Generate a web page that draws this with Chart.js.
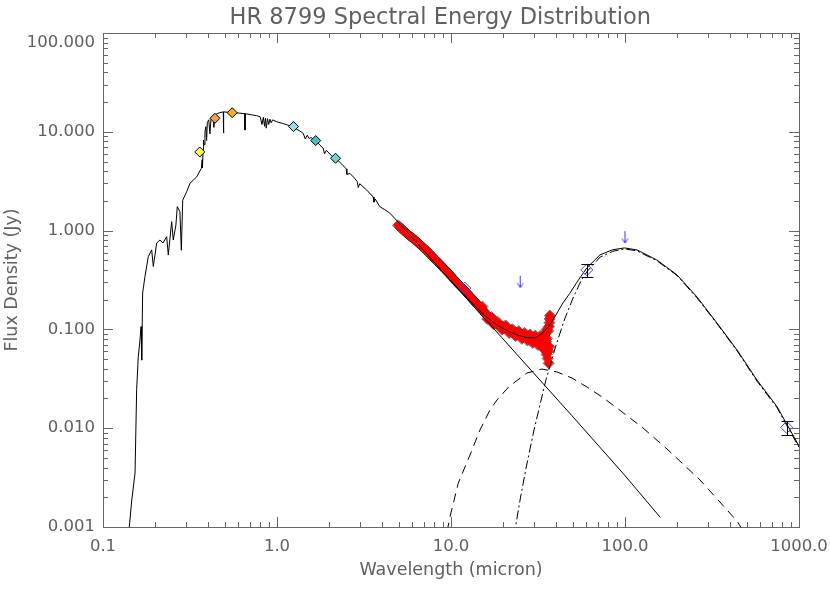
<!DOCTYPE html>
<html><head><meta charset="utf-8">
<script src="https://cdn.jsdelivr.net/npm/chart.js@4.4.0/dist/chart.umd.min.js"></script>
<style>html,body{margin:0;padding:0;background:#fff;overflow:hidden}canvas{display:block}</style>
</head><body>
<canvas id="c" width="830" height="593"></canvas>
<script>
// ---- tick labels ----
const xTicks = [0.1, 1, 10, 100, 1000];
const xTickLabels = ['0.1', '1.0', '10.0', '100.0', '1000.0'];
const yTicks = [0.001, 0.01, 0.1, 1, 10, 100];
const yTickLabels = ['0.001', '0.010', '0.100', '1.000', '10.000', ['', '100.000']];

// ---- stellar photosphere model (micron, Jy) ----
const photWave = [0.141,0.1463,0.1528,0.1561,0.1595,0.1631,0.1655,0.1669,0.169,0.1742,0.1821,0.1905,0.1946,0.2035,0.2126,0.2212,0.2322,0.2373,0.2481,0.2535,0.2624,0.2672,0.2767,0.282,0.2872,0.3027,0.316,0.3455,0.3674,0.3712,0.3731,0.3759,0.3779,0.3817,0.3855,0.3902,0.394,0.3978,0.4054,0.4116,0.4178,0.4283,0.434,0.4397,0.4644,0.4913,0.4926,0.4945,0.5318,0.5893,0.6528,0.6547,0.6566,0.7142,0.7622,0.8006,0.8197,0.8341,0.8485,0.8581,0.8677,0.882,0.8965,0.9109,0.9252,0.9446,0.9956,1.079,1.156,1.239,1.338,1.414,1.454,1.492,1.531,1.57,1.666,1.842,1.877,1.921,2.085,2.172,2.356,2.501,2.52,2.627,2.791,2.892,2.931,2.989,3.28,3.57,3.609,3.667,3.9,4.151,4.451,4.966,6.797,9.74,14.66,19.6,29.5,49.35,99.3,159.6];
const photFlux = [0.00092,0.00187,0.00352,0.0245,0.0528,0.078,0.1067,0.0489,0.234,0.342,0.545,0.637,0.433,0.749,0.804,0.749,0.868,0.567,1.231,0.804,1.14,1.746,1.553,0.633,2.034,2.477,3.01,3.5,4.26,5.21,4.31,6.59,8.26,7.38,10.1,11.28,8.17,12.45,13.23,9.52,13.8,14.4,11.08,14.86,15.54,15.92,9.71,15.92,15.73,15.54,15.25,10.4,15.25,14.86,14.57,14.18,11.86,13.99,11.37,13.8,10.89,13.6,11.86,13.41,12.35,13.22,12.63,12.15,11.66,11.17,10.3,9.67,8.45,9.23,8.55,8.74,8.14,6.81,5.99,6.49,5.6,5.4,4.71,4.21,3.71,3.79,3.39,3.13,2.73,2.98,2.57,2.19,1.94,2.09,1.745,1.634,1.503,1.223,0.662,0.326,0.1447,0.0826,0.037,0.01349,0.00336,0.00125];

// ---- total model (photosphere + dust) ----
const totalWave = [9.74,11.7,13.66,15.64,17.61,19.6,21.56,24.53,27.5,30.46,33.43,36.4,39.4,43.97,48,52.9,60.3,71.8,84.3,99.3,117.3,152.5,198.8,259.3,337.9,440.6,573.5,748.5,888,1000];
const totalFlux = [0.326,0.2316,0.1747,0.1381,0.1171,0.1035,0.0951,0.0867,0.0824,0.0824,0.0909,0.107,0.133,0.185,0.23,0.30,0.419,0.567,0.638,0.668,0.637,0.504,0.357,0.213,0.116,0.0618,0.0307,0.01647,0.00962,0.0066];

// ---- warm dust (dashed) ----
const warmWave = [9.5,9.87,11.0,12.86,14.68,16.75,18.38,21.5,27.3,33.3,40.6,49.6,60.5,73.8,89.9,126.9,174.3,270,440,480];
const warmFlux = [0.0009,0.00127,0.00277,0.00536,0.0096,0.0153,0.0193,0.0263,0.0362,0.0397,0.0371,0.0322,0.0261,0.0207,0.016,0.01005,0.00616,0.00299,0.00115,0.0009];

// ---- cold dust (dash-dot) ----
const coldWave = [23,25,27,30,35,40,45,50,55.8,60.5,72,85,99.3,117,152.5,199,259,338,441,573,748,888,1000];
const coldFlux = [0.00081,0.00192,0.00395,0.0096,0.0301,0.0679,0.1274,0.203,0.309,0.385,0.54,0.617,0.652,0.624,0.495,0.351,0.209,0.114,0.0606,0.030,0.0161,0.0093,0.0064];

// ---- Spitzer IRS spectrum points ----
const irsWave = [4.97,5.08,5.20,5.32,5.45,5.58,5.71,5.85,5.99,6.13,6.28,6.43,6.59,6.75,6.91,7.08,7.25,7.42,7.60,7.79,7.97,8.17,8.37,8.57,8.78,8.99,9.21,9.43,9.66,9.90,10.14,10.39,10.64,10.90,11.16,11.44,11.71,11.99,12.29,12.58,12.89,13.20,13.52,13.86,14.15,14.45,14.74,15.04,15.33,15.65,15.94,16.23,16.63,17.02,17.42,17.82,18.21,18.60,19.1,19.6,20.1,20.6,21.1,21.6,22.2,22.8,23.3,23.9,24.5,25.2,25.9,26.5,27.2,27.9,28.6,29.3,30.0,30.7,31.5,32.3,33.0,33.7,34.4,34.9,35.4,15.15,16.14,17.12,17.62,18.6,19.6,20.6,21.6,22.55,23.5,24.5,25.5,26.5,27.5,28.5,29.5,30.5,31.5,32.5,33.5,33.9,34.4,34.9,35.4,35.6,35.9,36.2,36.4,36.6,36.8,36.9,37.0,36.7,36.3,35.2,33.3,31.0];
const irsFlux = [1.13,1.09,1.05,1.01,0.968,0.937,0.901,0.871,0.846,0.82,0.79,0.76,0.729,0.703,0.678,0.652,0.627,0.601,0.576,0.55,0.525,0.505,0.484,0.464,0.443,0.423,0.407,0.388,0.371,0.356,0.337,0.322,0.307,0.294,0.281,0.269,0.258,0.248,0.237,0.225,0.215,0.206,0.196,0.187,0.180,0.172,0.167,0.161,0.155,0.148,0.141,0.137,0.131,0.126,0.121,0.118,0.115,0.113,0.110,0.107,0.1046,0.1025,0.1004,0.0983,0.0962,0.094,0.093,0.091,0.09,0.0878,0.0867,0.0857,0.0846,0.0835,0.0825,0.0814,0.0804,0.0793,0.0782,0.0782,0.0793,0.0814,0.0857,0.092,0.0995,0.17,0.1277,0.133,0.1119,0.119,0.0993,0.11,0.0919,0.1004,0.0857,0.0962,0.0804,0.092,0.0772,0.0889,0.0729,0.0867,0.0698,0.0857,0.0666,0.075,0.0624,0.0708,0.056,0.0804,0.0507,0.0962,0.0454,0.1067,0.117,0.1276,0.138,0.0666,0.0602,0.0751,0.073,0.075];

// ---- optical / near-IR photometry ----
const optWave = [0.36, 0.44, 0.553, 1.244, 1.669, 2.17];
const optFlux = [6.25, 13.7, 15.6, 11.3, 8.15, 5.4];
const optColors = ['#ffff50', '#f0a050', '#f5b020', '#90e4e4', '#40c4c8', '#70d4d4'];

// ---- IRAS / SCUBA photometry with errors ----
const irWave = [12, 60.3, 849];
const irFlux = [0.262, 0.40, 0.0102];
const irErr = [0.0, 0.06, 0.0017];

// ---- upper limits ----
const ulWave = [25, 100];
const ulFlux = [0.35, 0.99];

const pairs = (xs, ys) => xs.map((v, i) => ({x: v, y: ys[i]}));

function arrowImg() {
  const c = document.createElement('canvas');
  c.width = 11; c.height = 28;
  const g = c.getContext('2d');
  g.strokeStyle = '#3a3aff'; g.lineWidth = 1;
  g.beginPath();
  g.moveTo(5.5, 14); g.lineTo(5.5, 26);
  g.moveTo(2.5, 21.5); g.lineTo(5.5, 26); g.lineTo(8.5, 21.5);
  g.stroke();
  return c;
}

const frameColor = '#666';
const textColor = '#606060';
const fontFam = 'DejaVu Sans';

const idlFrame = {
  id: 'idlFrame',
  beforeDatasetsDraw(chart) {
    const {ctx, chartArea: a, scales: {x, y}} = chart;
    ctx.save();
    ctx.strokeStyle = frameColor; ctx.lineWidth = 1;
    ctx.strokeRect(Math.round(a.left) + 0.5, Math.round(a.top) + 0.5, Math.round(a.right - a.left), Math.round(a.bottom - a.top));
    ctx.beginPath();
    for (let k = -1; k <= 3; k++) {
      for (let m = 1; m <= 9; m++) {
        const v = m * Math.pow(10, k);
        if (v < 0.1 - 1e-9 || v > 1000 + 1e-6) continue;
        const px = Math.round(x.getPixelForValue(v)) + 0.5;
        const len = m === 1 ? 10 : 5;
        ctx.moveTo(px, a.bottom); ctx.lineTo(px, a.bottom - len);
        ctx.moveTo(px, a.top); ctx.lineTo(px, a.top + len);
      }
    }
    for (let k = -3; k <= 2; k++) {
      for (let m = 1; m <= 9; m++) {
        const v = m * Math.pow(10, k);
        if (v < 0.001 - 1e-9 || v > 100 + 1e-6) continue;
        const py = Math.round(y.getPixelForValue(v)) + 0.5;
        const len = m === 1 ? 10 : 5;
        ctx.moveTo(a.left, py); ctx.lineTo(a.left + len, py);
        ctx.moveTo(a.right, py); ctx.lineTo(a.right - len, py);
      }
    }
    ctx.stroke();
    ctx.restore();
  },
  afterDatasetsDraw(chart) {
    const {ctx, scales: {x, y}} = chart;
    ctx.save();
    ctx.strokeStyle = '#000'; ctx.lineWidth = 1;
    ctx.beginPath();
    irWave.forEach((w, i) => {
      if (!irErr[i]) return;
      const px = Math.round(x.getPixelForValue(w)) + 0.5;
      const y1 = Math.round(y.getPixelForValue(irFlux[i] + irErr[i])) + 0.5;
      const y2 = Math.round(y.getPixelForValue(irFlux[i] - irErr[i])) + 0.5;
      ctx.moveTo(px, y1); ctx.lineTo(px, y2);
      ctx.moveTo(px - 6, y1); ctx.lineTo(px + 6, y1);
      ctx.moveTo(px - 6, y2); ctx.lineTo(px + 6, y2);
    });
    ctx.stroke();
    ctx.restore();
  }
};

const lineDs = (label, xs, ys, dash) => ({
  label, data: pairs(xs, ys), showLine: true, borderColor: '#000', borderWidth: 1,
  borderDash: dash, pointRadius: 0, tension: 0, clip: 0
});

// Chart.js draws dataset 0 on top: listed from top layer to bottom layer
new Chart(document.getElementById('c'), {
  type: 'scatter',
  data: {
    datasets: [
      {
        label: 'Upper limits', data: pairs(ulWave, ulFlux), pointStyle: arrowImg(), pointRadius: 6
      },
      {
        label: 'IRAS/SCUBA', data: pairs(irWave, irFlux), pointStyle: 'rectRot', pointRadius: 6,
        borderColor: '#4646ff', backgroundColor: 'rgba(0,0,0,0)', borderWidth: 1
      },
      {
        label: 'Optical/NIR', data: pairs(optWave, optFlux), pointStyle: 'rectRot', pointRadius: 5,
        borderColor: '#000', backgroundColor: optColors, borderWidth: 1
      },
      lineDs('Total', totalWave, totalFlux, []),
      lineDs('Photosphere', photWave, photFlux, []),
      lineDs('Warm dust', warmWave, warmFlux, [9, 6]),
      lineDs('Cold dust', coldWave, coldFlux, [9, 3, 2, 3]),
      {
        label: 'IRS', data: pairs(irsWave, irsFlux), pointStyle: 'rectRot', pointRadius: 4.5,
        borderColor: '#ff0000', backgroundColor: '#ff0000', borderWidth: 1, clip: 0
      },
      {
        label: 'IRS outline', data: pairs(irsWave, irsFlux), pointStyle: 'rectRot', pointRadius: 5.5,
        borderColor: 'rgba(0,0,0,0.6)', backgroundColor: 'rgba(0,0,0,0)', borderWidth: 1, clip: 0
      }
    ]
  },
  options: {
    responsive: false, animation: false, devicePixelRatio: 1,
    layout: {padding: 0},
    plugins: {
      legend: {display: false}, tooltip: {enabled: false},
      title: {display: true, fullSize: false, text: 'HR 8799 Spectral Energy Distribution   ', color: textColor,
        font: {family: fontFam, size: 22.5, weight: 'normal'}, padding: {top: 5, bottom: 1}}
    },
    scales: {
      x: {
        type: 'logarithmic', min: 0.1, max: 1000,
        afterBuildTicks: s => { s.ticks = xTicks.map(v => ({value: v})); },
        afterFit: s => { s.height = 66; s.paddingRight = 31; s.paddingLeft = 0; },
        grid: {display: false, drawTicks: false}, border: {display: false},
        ticks: {autoSkip: false, maxRotation: 0, padding: 10, color: textColor,
          font: {family: fontFam, size: 16.5},
          callback: v => xTickLabels[xTicks.findIndex(t => Math.abs(t - v) / t < 1e-6)]},
        title: {display: true, text: 'Wavelength (micron)', color: textColor,
          font: {family: fontFam, size: 17.5}, padding: {top: 0, bottom: 12}}
      },
      y: {
        type: 'logarithmic', min: 0.001, max: 100,
        afterBuildTicks: s => { s.ticks = yTicks.map(v => ({value: v})); },
        afterFit: s => { s.width = 103; s.paddingTop = 0; s.paddingBottom = 0; },
        grid: {display: false, drawTicks: false}, border: {display: false},
        ticks: {autoSkip: false, padding: 8, color: textColor,
          font: {family: fontFam, size: 16.5},
          callback: v => yTickLabels[yTicks.findIndex(t => Math.abs(t - v) / t < 1e-6)]},
        title: {display: true, text: 'Flux Density (Jy)', color: textColor,
          font: {family: fontFam, size: 17.5}, padding: {top: 2, bottom: 0}}
      }
    }
  },
  plugins: [idlFrame]
});
</script>
</body></html>
